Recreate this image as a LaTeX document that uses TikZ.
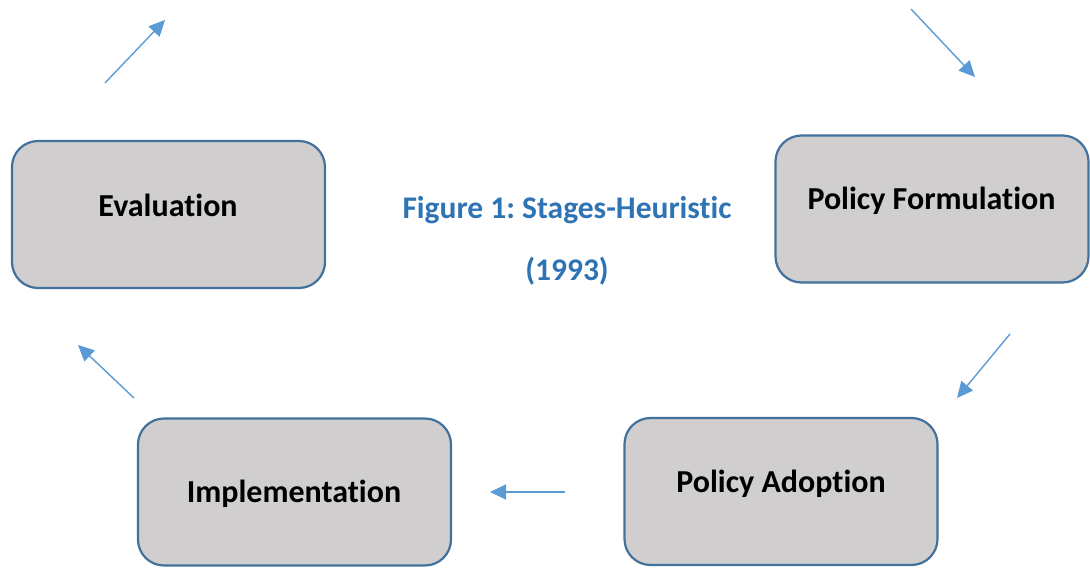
\documentclass[tikz,border=0pt]{standalone}
\usepackage{fontspec}
\setmainfont[Ligatures=NoCommon]{Carlito}
\usetikzlibrary{arrows.meta}
\frenchspacing
\definecolor{boxfill}{HTML}{D0CECE}
\definecolor{boxline}{HTML}{41719C}
\definecolor{arrowc}{HTML}{5B9BD5}
\definecolor{titlec}{HTML}{2E74B5}
\tikzset{
  stagebox/.style={draw=boxline, line width=2.2pt, fill=boxfill, rounded corners=26pt,
    minimum width=313pt, minimum height=147pt, inner sep=0pt},
  stagetext/.style={font=\fontsize{32}{38}\selectfont\bfseries, text=black, anchor=base, inner sep=0pt},
  flowarrow/.style={draw=arrowc, line width=1.4pt, -{Triangle[length=16pt,width=15pt]}},
  titletext/.style={font=\fontsize{31.5}{36}\selectfont\bfseries, text=titlec, inner sep=0pt, anchor=base}
}
\begin{document}
\begin{tikzpicture}[x=1pt,y=-1pt]
\useasboundingbox (0,0) rectangle (1090,569);
\node[stagebox] (eval) at (168.5,214.5) {};
\node[stagebox] (form) at (932,209) {};
\node[stagebox] (adopt) at (781,491.5) {};
\node[stagebox] (impl) at (294.5,492) {};
\node[stagetext] (evalt) at (168,216.5) {Evaluation};
\node[stagetext] (formt) at (931.5,210) {Policy Formulation};
\node[stagetext] (adoptt) at (781,492.5) {Policy Adoption};
\node[stagetext] (implt) at (294,502) {Implementation};
\node[titletext] (t1) at (567,219) {\frenchspacing Figure 1: Stages-Heuristic};
\node[titletext] (t2) at (567,280.5) {(1993)};
\coordinate (a1s) at (105,83);  \coordinate (a1e) at (165,20);
\coordinate (a2s) at (911,9);   \coordinate (a2e) at (975,77);
\coordinate (a3s) at (1010,334); \coordinate (a3e) at (957,398);
\coordinate (a4s) at (565,492); \coordinate (a4e) at (490,492);
\coordinate (a5s) at (134,398); \coordinate (a5e) at (78,345);
\draw[flowarrow] (a1s) -- (a1e);
\draw[flowarrow] (a2s) -- (a2e);
\draw[flowarrow] (a3s) -- (a3e);
\draw[flowarrow] (a4s) -- (a4e);
\draw[flowarrow] (a5s) -- (a5e);
\end{tikzpicture}
\end{document}
